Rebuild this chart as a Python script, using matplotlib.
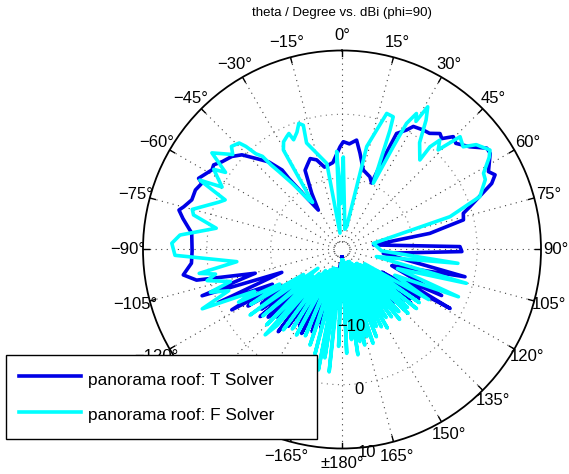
import numpy as np
import matplotlib
matplotlib.use("Agg")
import matplotlib.pyplot as plt

plt.rcParams['font.family'] = ['Liberation Sans', 'DejaVu Sans']

# (theta in degrees, 0 = top, clockwise ; gain in dBi)
pts_T = [(-180, -20), (-178, -16), (-176, -12), (-174.5, -19), (-172.4, -9.0), (-171.2, -17), (-170, -9.8),
         (-168.5, -18), (-167, -10), (-166, -17), (-165, -8.5), (-163.5, -18), (-162, -9), (-161, -17),
         (-160, -7.5), (-158.5, -17), (-157, -8), (-155.5, -16), (-154.3, -6.6), (-152.5, -16), (-151, -7.5),
         (-149.5, -16), (-148, -7.0), (-146.5, -15), (-145, -6.5), (-143.5, -15), (-142.2, -4.9), (-140.5, -14),
         (-139, -6), (-137.5, -14), (-136, -6.5), (-134, -13), (-132.5, -5.5), (-131, -13), (-129.3, -4.6),
         (-128, -12), (-126.5, -5.5), (-125.2, -12), (-124, -6.0), (-122.5, -11), (-121, -4), (-119.8, -10),
         (-118.7, -1.5), (-116.5, -9), (-113.2, -0.2), (-110.8, -11.1), (-108.3, 1.9), (-105.3, -7.1),
         (-101.9, 2.1), (-99.1, 4.0), (-95.2, 2.5), (-90.5, 2.3), (-83.8, 2.5), (-79, 4.2), (-76.4, 5.1),
         (-74.9, 4.5), (-71.7, 3.6), (-67.9, 3.6), (-64.7, 3.1), (-63.6, 3.9), (-58.5, 2.7), (-56.6, 2.9),
         (-53.8, 2.1), (-49.8, 1.4), (-46.6, 0.4), (-43.5, -1.5), (-39.9, -3.3), (-37.0, -5.6), (-36.8, -7.3),
         (-33.9, -11.8), (-31.0, -14.0), (-28.3, -11.2), (-25, -7.5), (-22, -6.8), (-19.3, -6.1),
         (-15.8, -6.6), (-12, -8), (-6, -7.5), (-1.1, -5.1), (0.7, -4.3), (4, -4.6), (7.6, -3.9),
         (10.6, -5.85), (15, -8.3), (21, -9.0), (24, -9.8), (24.5, -5.3), (25.2, -1.1), (28.4, 0.1),
         (30.1, 1.1), (34.2, 1.45), (37, 1.6), (40.2, 2.6), (42, 2.2), (44.6, 3.65), (47, 3.2), (51.2, 4.5),
         (55.0, 6.5), (57.0, 6.5), (62.0, 4.8), (64.0, 5.5), (66.2, 4.45), (71.5, -0.05), (73.4, -1.35),
         (76.3, -1.6), (79.6, -7.2), (81.8, -16.2), (88.6, -2.7), (91.0, -2.4), (95.3, -14.7), (102.5, -1.45),
         (108, -13), (114.8, -4.0), (116, -11.5), (118.6, -1.9), (119.5, -14), (121, -7), (122, -15),
         (123, -6.9), (124, -15), (125.5, -8), (126.5, -15), (128, -7.5), (129.5, -16), (131, -8.5),
         (132.5, -16), (134, -8), (135.5, -16.5), (137, -9.5), (138.5, -17), (140, -9), (141.5, -17),
         (143, -10.5), (144.5, -17.5), (146.5, -10), (148, -18), (150, -11), (152, -18.5), (154, -11.5),
         (156, -19), (158, -12), (160, -19), (162, -12.5), (164, -19), (167.3, -13.4), (169, -17),
         (170, -13.1), (172, -19), (175, -15.6), (177.5, -19.5), (180, -20)]

pts_F = [(-180, -19.5), (-178, -6), (-176, -19), (-174, -1.9), (-172, -18), (-171, -4.0), (-170, -18),
         (-168.9, -1.95), (-167, -18), (-165.5, -4.3), (-163.5, -18), (-161.5, -5.4), (-159, -18),
         (-157, -6.5), (-155, -18), (-152, -6.0), (-150, -17.5), (-148, -6.5), (-146, -17), (-143.9, -5.6),
         (-142, -17), (-139.5, -5.5), (-138, -3.2), (-136.5, -16), (-135, -4.5), (-132.5, -15), (-130, -5.0),
         (-128, -16.4), (-125.5, -3.5), (-123, -14), (-121, -4.5), (-119, -10), (-117, -3), (-115.5, -6),
         (-113, 2.6), (-110, -2.3), (-108, 0.5), (-106, -3), (-103, 0.5), (-101, -1), (-99.5, 1.5),
         (-96.6, -4.6), (-92, 5.0), (-87.9, 5.5), (-84.9, 4.3), (-80.4, -1.2), (-76.9, 2.7), (-75, 3.1),
         (-69, -0.5), (-67, -1.3), (-64, 3.6), (-62.5, 0.0), (-58, 2.5), (-56.5, 0.7), (-53.4, 4.2),
         (-49, 1.5), (-47, 2.5), (-44, 2.0), (-43, 0.9), (-42, -1.0), (-40.5, -2.0), (-40, -3.9),
         (-39, -5.5), (-37, -8.2), (-33.7, -11.9), (-32, -12.5), (-30.5, -3.1), (-28.5, -2.0),
         (-26.1, -1.5), (-24.6, -1.2), (-23.8, -2.4), (-21, -1.5), (-18.9, -0.3), (-17.3, -0.8),
         (-18.4, -3.6), (-10, -7.5), (-7, -18.6), (-3.1, -5.8), (-1.5, -14), (0.8, -6.7), (8, -18),
         (11.6, -17.5), (13.5, -4.6), (16.2, -1.7), (18.2, 1.25), (21.1, 1.1), (21.9, -1.0), (25.3, -9.7),
         (26.5, -3.2), (27.1, 1.0), (28.7, 3.1), (30, 2.0), (31, 4.9), (33, 3.0), (36, -0.5), (41, -2.6),
         (40.6, 0.0), (41.8, 1.8), (44, 0.5), (46.3, 4.4), (49.7, 3.7), (52, 5.5), (56.1, 6.75), (58, 6.0),
         (61.7, 4.0), (64, 3.8), (69, 1.95), (71.5, -1.7), (73.1, -3.5), (78.9, -16.2), (92, -15),
         (96.8, -2.9), (101.7, -15.7), (105.2, -1.0), (109, -12), (112.1, -1.5), (116, -12), (120, -5.5),
         (122.3, -17), (124.5, -6.5), (126.5, -17), (128.4, -6.3), (130, -17.5), (131.5, -7.5), (132.8, -18),
         (134, -6.8), (135.8, -18), (137.5, -8), (139, -18), (140.5, -7), (142, -18), (143.7, -8.1),
         (145.3, -18.5), (147, -8.5), (148.5, -19), (150, -7), (151.5, -19), (153, -7.6), (154.5, -19),
         (156, -8), (157.3, -19), (158.5, -6.5), (160, -19), (161.7, -5.7), (163, -19), (164, -7),
         (165.3, -19), (166.6, -5.8), (168, -19), (169, -6.5), (170.2, -19), (171.4, -4.5), (172.7, -19.5),
         (174, -7), (175.7, -19.5), (177.4, -4.9), (178.7, -19.5), (180, -19.5)]

theta_T, gain_T = zip(*pts_T)
theta_F, gain_F = zip(*pts_F)

angle_ticks = list(range(0, 181, 15)) + list(range(-165, 0, 15))
angle_labels = ['%d\u00b0' % a if a < 180 else '\u00b1180\u00b0' for a in angle_ticks]
angle_labels = [s.replace('-', '\u2212') for s in angle_labels]
r_rings = [-20, -10, 0]
r_labels = [-10, 0, 10]
r_min, r_max = -21.2, 10

fig = plt.figure(figsize=(5.69, 4.74), dpi=100)
ax = fig.add_axes([0.2513, 0.0538, 0.6995, 0.8397], projection='polar')
ax.set_theta_zero_location('N')
ax.set_theta_direction(-1)
ax.grid(False)
ax.set_xticks([])
ax.set_yticks([])

# grid: spokes and rings
circ = np.linspace(0, 2 * np.pi, 721)
for v in r_rings:
    ax.plot(circ, np.full_like(circ, v), color='0.45', lw=0.8, ls=(0, (1, 4)))
for a, lab in zip(angle_ticks, angle_labels):
    t = np.deg2rad(a)
    ax.plot([t, t], [-20, r_max], color='0.25', lw=0.8, ls=(0, (1, 4)))
    ax.plot([t, t], [r_max - 0.9, r_max], color='black', lw=1.0)
    ax.text(t, r_min + 1.075 * (r_max - r_min), lab, ha='center', va='center', fontsize=12)

for v in r_labels:
    s = ('%d' % v).replace('-', '\u2212')
    ax.text(np.deg2rad(173), v + 0.9, s, ha='center', va='center', fontsize=12)

lT, = ax.plot(np.deg2rad(theta_T), gain_T, color='#0000E6', lw=2.6)
lF, = ax.plot(np.deg2rad(theta_F), gain_F, color='#00FFFF', lw=2.6)
ax.set_ylim(r_min, r_max)
ax.spines['polar'].set_linewidth(1.3)
ax.spines['polar'].set_color('black')

fig.text(342 / 569, 1 - 13 / 474, 'theta / Degree vs. dBi (phi=90)', ha='center', va='center', fontsize=9.5)

leg = fig.legend([lT, lF], ['panorama roof: T Solver', 'panorama roof: F Solver'],
                 loc='upper left', bbox_to_anchor=(6 / 569, 1 - 450 / 474, 311 / 569, 95 / 474),
                 mode='expand', fontsize=12.4, handlelength=3.6, handletextpad=0.4,
                 handleheight=1.64, labelspacing=0.74, borderpad=0.75, fancybox=False,
                 framealpha=1, edgecolor='black', borderaxespad=0)
leg.get_frame().set_linewidth(1.0)

fig.savefig('out.png', dpi=100)
